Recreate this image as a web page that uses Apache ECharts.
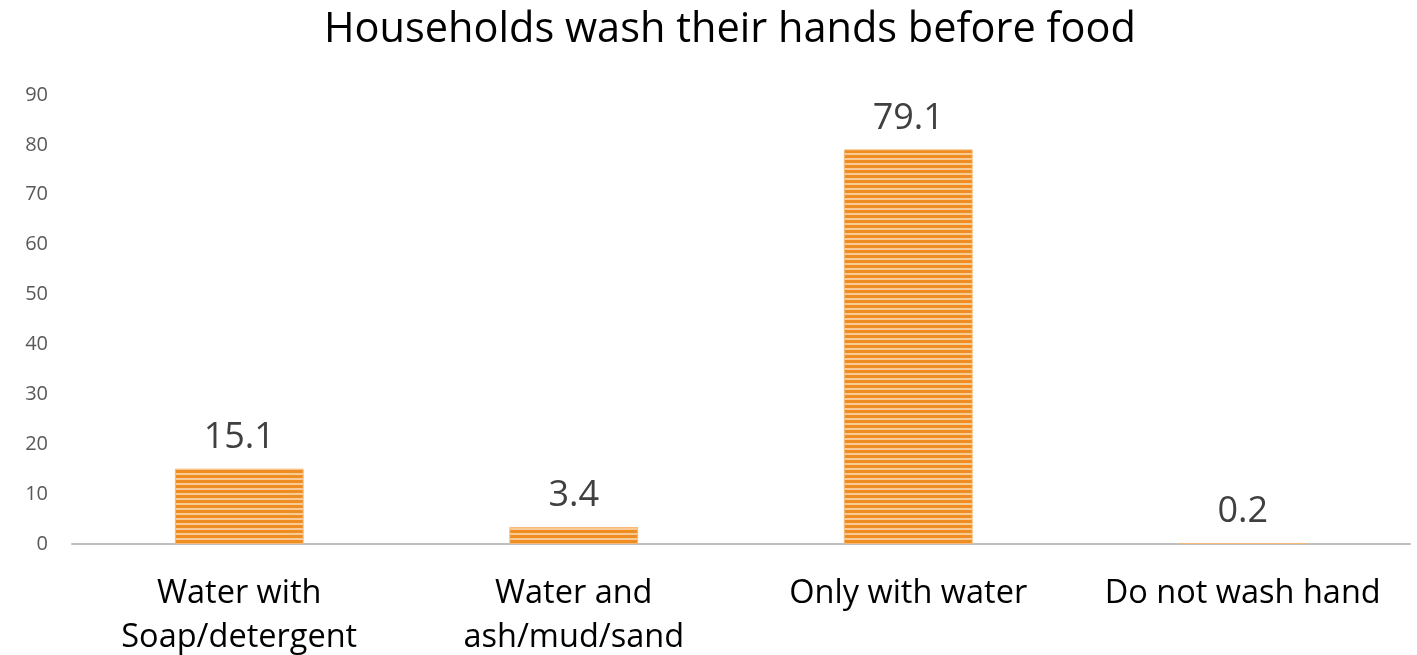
<!DOCTYPE html>
<html><head><meta charset="utf-8">
<script src="https://cdn.jsdelivr.net/npm/echarts@6/dist/echarts.min.js"></script>
<style>html,body{margin:0;padding:0;background:#fff}#c{width:1417px;height:655px}</style>
</head><body><div id="c"></div>
<script>
const categories = ["Water with\nSoap/detergent", "Water and\nash/mud/sand", "Only with water", "Do not wash hand"];
const values = [15.1, 3.4, 79.1, 0.2];
const yTicks = [0, 10, 20, 30, 40, 50, 60, 70, 80, 90];

const pc = document.createElement('canvas');
pc.width = 4; pc.height = 5;
const g = pc.getContext('2d');
g.fillStyle = '#EF8C22'; g.fillRect(0, 0, 4, 5);
g.fillStyle = '#F9CB94'; g.fillRect(0, 3, 4, 2);

const chart = echarts.init(document.getElementById('c'));
chart.setOption({
  animation: false,
  title: {
    text: 'Households wash their hands before food', left: 319, top: 4,
    textStyle: { fontFamily: 'Open Sans', fontSize: 41.5, fontWeight: 'normal', color: '#000' }
  },
  grid: { left: 72, right: 7, top: 95, bottom: 111, outerBoundsMode: 'none', containLabel: false },
  xAxis: {
    type: 'category', data: categories,
    axisLine: { lineStyle: { color: '#BFBFBF', width: 2 } },
    axisTick: { show: false },
    axisLabel: { fontFamily: 'Open Sans', fontSize: 32.5, color: '#000', lineHeight: 44, margin: 28, interval: 0 }
  },
  yAxis: {
    type: 'value', min: 0, max: 90, interval: 10,
    splitLine: { show: false },
    axisLine: { show: false }, axisTick: { show: false },
    axisLabel: { fontFamily: 'Open Sans', fontSize: 20, color: '#595959', margin: 24,
      formatter: v => yTicks.includes(v) ? String(v) : '' }
  },
  series: [{
    type: 'bar', data: values, barWidth: '38.5%',
    itemStyle: { color: { image: pc, repeat: 'repeat' }, borderColor: '#F6B978', borderWidth: 1 },
    label: { show: true, position: 'top', distance: 13, fontFamily: 'Open Sans', fontSize: 36, color: '#404040' }
  }]
});
</script></body></html>
